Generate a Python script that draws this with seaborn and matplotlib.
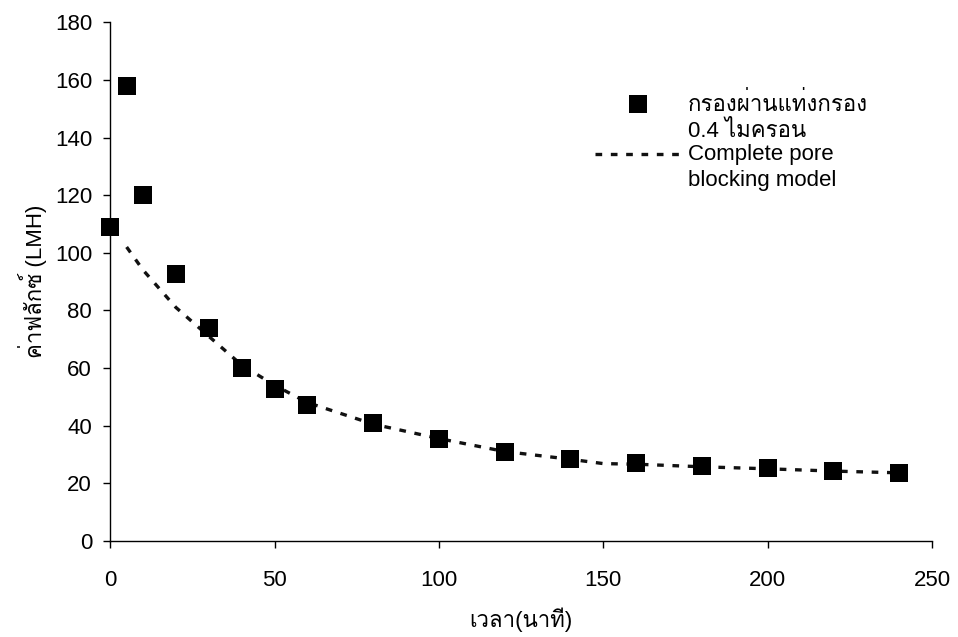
import numpy as np
import pandas as pd
import matplotlib
matplotlib.use('Agg')
import matplotlib.pyplot as plt
import seaborn as sns
from matplotlib import font_manager
from matplotlib.ft2font import FT2Font
from matplotlib.collections import PathCollection
from matplotlib.lines import Line2D
from matplotlib.legend_handler import HandlerPathCollection, HandlerLine2D

# data
time_min = [0, 5, 10, 20, 30, 40, 50, 60, 80, 100, 120, 140, 160, 180, 200, 220, 240]
flux_lmh = [109, 158, 120, 92.5, 74, 60, 52.7, 47.2, 41, 35.5, 31, 28.3, 27, 26, 25.2, 24.2, 23.5]
model_time = [5, 10, 20, 30, 40, 50, 60, 80, 100, 120, 140, 150, 160, 180, 200, 220, 240]
model_flux = [102, 94, 81, 71, 61, 54, 48, 40.5, 35.5, 31, 28.3, 26.8, 26.6, 25.7, 25, 24.2, 23.6]

series_label = 'กรองผ่านแท่งกรอง\n0.4 ไมครอน'
model_label = 'Complete pore\nblocking model'
x_title = 'เวลา(นาที)'
y_title = 'ค่าฟลักซ์ (LMH)'

sns.set_theme(style='white')

# find an installed family that can draw Thai
thai_family = None
for f in font_manager.fontManager.ttflist:
    try:
        if 0x0E01 in FT2Font(f.fname).get_charmap():
            thai_family = f.name
            break
    except Exception:
        pass
families = ['Liberation Sans']
if thai_family:
    families.append(thai_family)
families.append('DejaVu Sans')
plt.rcParams['font.family'] = families
plt.rcParams['text.color'] = 'black'
plt.rcParams['axes.labelcolor'] = 'black'
plt.rcParams['xtick.color'] = 'black'
plt.rcParams['ytick.color'] = 'black'


# legend handles sit level with the first line of their two-line labels
class RaisedLine(HandlerLine2D):
    def create_artists(self, legend, orig_handle, xdescent, ydescent, width, height, fontsize, trans):
        arts = super().create_artists(legend, orig_handle, xdescent, ydescent, width, height, fontsize, trans)
        for a in arts:
            a.set_ydata(np.asarray(a.get_ydata()) + 0.63 * fontsize)
        return arts


fig = plt.figure(figsize=(9.58, 6.37), dpi=100)
ax = fig.add_axes([0.115, 0.151, 0.858, 0.814])

data = pd.DataFrame({'t': time_min, 'flux': flux_lmh})
model = pd.DataFrame({'t': model_time, 'flux': model_flux})

sns.scatterplot(data=data, x='t', y='flux', ax=ax, marker='s', s=150,
                color='black', edgecolor='black', linewidth=0, label=series_label,
                zorder=3, clip_on=False)
sns.lineplot(data=model, x='t', y='flux', ax=ax, color='#111111', linewidth=2.4,
             dashes=False, label=model_label, zorder=2)
ax.lines[0].set_linestyle((0, (2.0, 2.6)))

ax.set_xlim(0, 250)
ax.set_ylim(0, 180)
ax.set_xticks(range(0, 251, 50))
ax.set_yticks(range(0, 181, 20))
ax.set_xlabel(x_title, fontsize=16, labelpad=12)
ax.set_ylabel(y_title, fontsize=16, labelpad=6)
ax.tick_params(axis='both', labelsize=16, length=5, width=1,
               direction='out', bottom=True, left=True)
ax.tick_params(axis='x', pad=16)
ax.tick_params(axis='y', pad=8)

for side in ['top', 'right']:
    ax.spines[side].set_visible(False)
for side in ['left', 'bottom']:
    ax.spines[side].set_color('black')
    ax.spines[side].set_linewidth(1)

leg = ax.legend(loc='upper left', bbox_to_anchor=(0.565, 0.904), frameon=False,
                fontsize=16, handlelength=3.9, handletextpad=0.3, labelspacing=0.1,
                markerscale=1.0,
                handler_map={PathCollection: HandlerPathCollection(yoffsets=[1.36]),
                             Line2D: RaisedLine()})
for txt in leg.get_texts():
    txt.set_linespacing(1.3)

fig.savefig('out.png', dpi=100, facecolor='white')
